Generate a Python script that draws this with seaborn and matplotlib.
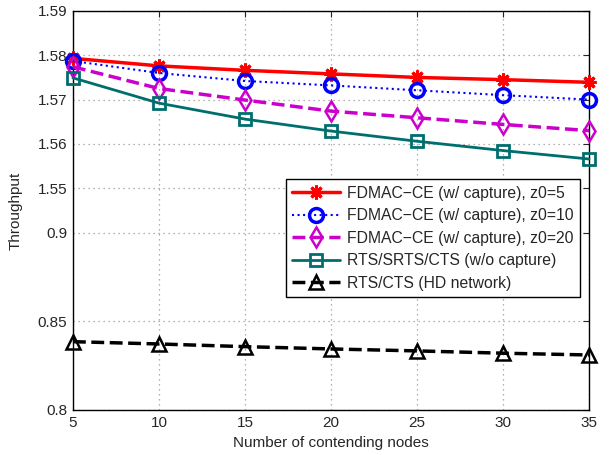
import numpy as np
import pandas as pd
import seaborn as sns
import matplotlib.pyplot as plt

# Data
nodes = [5, 10, 15, 20, 25, 30, 35]
fd_z5 = [1.5793, 1.5776, 1.5766, 1.5758, 1.5750, 1.5745, 1.5739]
fd_z10 = [1.5787, 1.5760, 1.5742, 1.5732, 1.5721, 1.5710, 1.5700]
fd_z20 = [1.5774, 1.5725, 1.5699, 1.5674, 1.5659, 1.5644, 1.5630]
rts_srts = [1.5749, 1.5692, 1.5656, 1.5629, 1.5606, 1.5585, 1.5566]
rts_hd = [0.8385, 0.8372, 0.8357, 0.8344, 0.8333, 0.8320, 0.8310]

labels = ["FDMAC\u2212CE (w/ capture), z0=5",
          "FDMAC\u2212CE (w/ capture), z0=10",
          "FDMAC\u2212CE (w/ capture), z0=20",
          "RTS/SRTS/CTS (w/o capture)",
          "RTS/CTS (HD network)"]
yticks = [0.8, 0.85, 0.9, 1.55, 1.56, 1.57, 1.58, 1.59]
ytick_labels = ["0.8", "0.85", "0.9", "1.55", "1.56", "1.57", "1.58", "1.59"]

df = pd.DataFrame({"nodes": nodes, "z5": fd_z5, "z10": fd_z10, "z20": fd_z20,
                   "srts": rts_srts, "hd": rts_hd})

sns.set_style("white")
plt.rcParams['font.family'] = ['Liberation Sans', 'DejaVu Sans']

# broken y axis: piecewise linear mapping
ybreaks = [0.8, 0.9, 1.55, 1.59]
ypos = [0, 4, 5, 9]


def fwd(y):
    return np.interp(y, ybreaks, ypos)


def inv(v):
    return np.interp(v, ypos, ybreaks)


fig = plt.figure(figsize=(6.13, 4.55), dpi=100)
ax = fig.add_axes([0.119, 0.099, 0.842, 0.877])
ax.set_yscale('function', functions=(fwd, inv))

styles = [
    ("z5", "#ff0000", "-", 2.5, (8, 2, 0), 10, 2.2),
    ("z10", "#0000ff", ":", 1.5, "o", 10, 2.5),
    ("z20", "#cc00cc", "--", 2.5, "d", 10, 1.8),
    ("srts", "#006e6e", "-", 2.0, "s", 9, 2.0),
    ("hd", "#000000", "--", 2.5, "^", 10, 1.8),
]
for (col, c, ls, lw, mk, ms, mew), lab in zip(styles, labels):
    sns.lineplot(data=df, x="nodes", y=col, ax=ax, color=c, linestyle=ls, linewidth=lw,
                 marker=mk, markersize=ms, markerfacecolor="none", markeredgecolor=c,
                 markeredgewidth=mew, label=lab, clip_on=False, zorder=3)

ax.set_xlim(5, 35)
ax.set_ylim(0.8, 1.59)
ax.set_xticks(nodes)
ax.set_yticks(yticks)
ax.set_yticklabels(ytick_labels)
ax.tick_params(direction="in", length=4, labelsize=11, top=True, right=True, pad=4)
ax.grid(True, linestyle=(0, (1, 3)), color="#999999", linewidth=0.9)
for s in ax.spines.values():
    s.set_linewidth(1.0)
    s.set_color("black")
ax.set_xlabel("Number of contending nodes", fontsize=11, labelpad=5)
ax.set_ylabel("Throughput", fontsize=11, labelpad=11)

leg = ax.legend(loc="lower right", bbox_to_anchor=(0.983, 0.283), fontsize=11.3,
                frameon=True, fancybox=False, framealpha=1, edgecolor="black",
                handlelength=3.0, borderpad=0.4, labelspacing=0.48, handletextpad=0.5,
                borderaxespad=0)
leg.get_frame().set_linewidth(1.0)

fig.savefig("out.png", dpi=100)
